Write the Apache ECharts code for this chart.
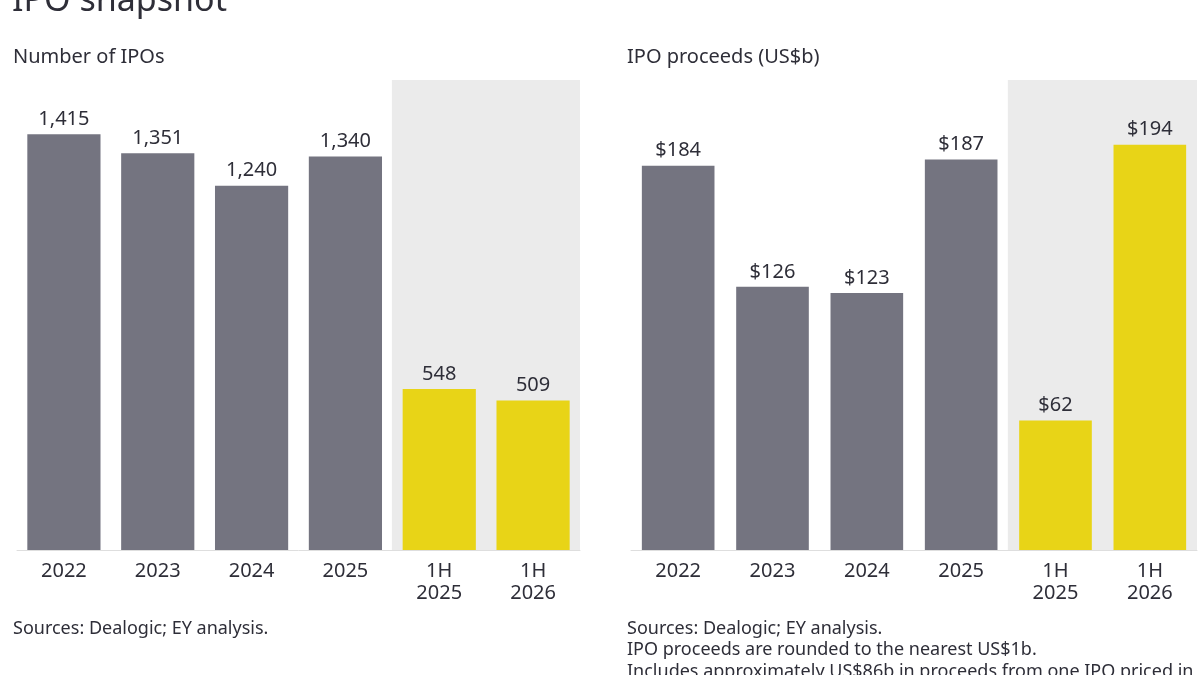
<!DOCTYPE html>
<html>
<head>
<meta charset="utf-8">
<script src="https://cdn.jsdelivr.net/npm/echarts@6/dist/echarts.min.js"></script>
<style>
  html, body { margin: 0; padding: 0; background: #fff; }
  #wrapper { width: 1200px; height: 675px; }
</style>
</head>
<body>
<div id="wrapper"></div>
<script>
// data
const categories = ["2022", "2023", "2024", "2025", "1H\n2025", "1H\n2026"];
const ipoCounts = [1415, 1351, 1240, 1340, 548, 509];
const ipoProceeds = [184, 126, 123, 187, 62, 194];
// the last two periods are the half-year ones (shaded, yellow)
const halfYearStart = 4;

const countMax = 1600;
const proceedsMax = 225;

const FONT = "Noto Sans";
const INK = "#2e2e38";
const GREY = "#747480";
const YELLOW = "#e8d417";
const SHADE = "#ebebeb";

function barColor(p) {
  return p.dataIndex >= halfYearStart ? YELLOW : GREY;
}

// shading band: full height on the half-year categories only
function shadeData(max) {
  return categories.map((c, i) => (i >= halfYearStart ? max : "-"));
}

function catAxis(gridIndex, show) {
  return {
    type: "category",
    gridIndex: gridIndex,
    data: categories,
    show: show,
    axisLine: { lineStyle: { color: "#dedede", width: 1 } },
    axisTick: { alignWithLabel: true, length: 6, lineStyle: { color: "#dedede" } },
    axisLabel: {
      color: INK,
      fontFamily: FONT,
      fontSize: 20,
      lineHeight: 22,
      margin: 10
    }
  };
}

function valAxis(gridIndex, max) {
  return { type: "value", gridIndex: gridIndex, min: 0, max: max, show: false };
}

function labelStyle(fmt) {
  return {
    show: true,
    position: "top",
    distance: 5,
    color: INK,
    fontFamily: FONT,
    fontSize: 20,
    formatter: fmt
  };
}

function txt(size, extra) {
  return Object.assign({ fontFamily: FONT, fontSize: size, fontWeight: "normal", color: INK }, extra || {});
}

const myChart = echarts.init(document.getElementById("wrapper"));

const options = {
  animation: false,
  backgroundColor: "#fff",
  title: [
    { text: "IPO snapshot", left: 12, top: -16, padding: 0, textStyle: txt(34) },
    { text: "Number of IPOs", left: 13, top: 47, padding: 0, textStyle: txt(20) },
    { text: "IPO proceeds (US$b)", left: 627, top: 47, padding: 0, textStyle: txt(20) },
    { text: "Sources: Dealogic; EY analysis.", left: 13, top: 618, padding: 0, textStyle: txt(18, { lineHeight: 21.5 }) },
    {
      text: "Sources: Dealogic; EY analysis.\nIPO proceeds are rounded to the nearest US$1b.\nIncludes approximately US$86b in proceeds from one IPO priced in",
      left: 627, top: 618, padding: 0,
      textStyle: txt(18, { lineHeight: 21.5 })
    }
  ],
  grid: [
    { left: 17, top: 80, width: 563, height: 470 },
    { left: 631, top: 80, width: 566, height: 470 }
  ],
  xAxis: [
    catAxis(0, true),
    catAxis(1, true),
    catAxis(0, false),
    catAxis(1, false)
  ],
  yAxis: [
    valAxis(0, countMax),
    valAxis(1, proceedsMax),
    valAxis(0, countMax),
    valAxis(1, proceedsMax)
  ],
  series: [
    {
      type: "bar", xAxisIndex: 2, yAxisIndex: 2, silent: true,
      barWidth: "101%", itemStyle: { color: SHADE }, z: 1,
      data: shadeData(countMax)
    },
    {
      type: "bar", xAxisIndex: 3, yAxisIndex: 3, silent: true,
      barWidth: "101%", itemStyle: { color: SHADE }, z: 1,
      data: shadeData(proceedsMax)
    },
    {
      type: "bar", xAxisIndex: 0, yAxisIndex: 0, z: 3,
      barWidth: "78%",
      itemStyle: { color: barColor },
      label: labelStyle(p => p.value.toLocaleString("en-US")),
      data: ipoCounts
    },
    {
      type: "bar", xAxisIndex: 1, yAxisIndex: 1, z: 3,
      barWidth: "77%",
      itemStyle: { color: barColor },
      label: labelStyle(p => "$" + p.value),
      data: ipoProceeds
    }
  ]
};

myChart.setOption(options);
</script>
</body>
</html>
